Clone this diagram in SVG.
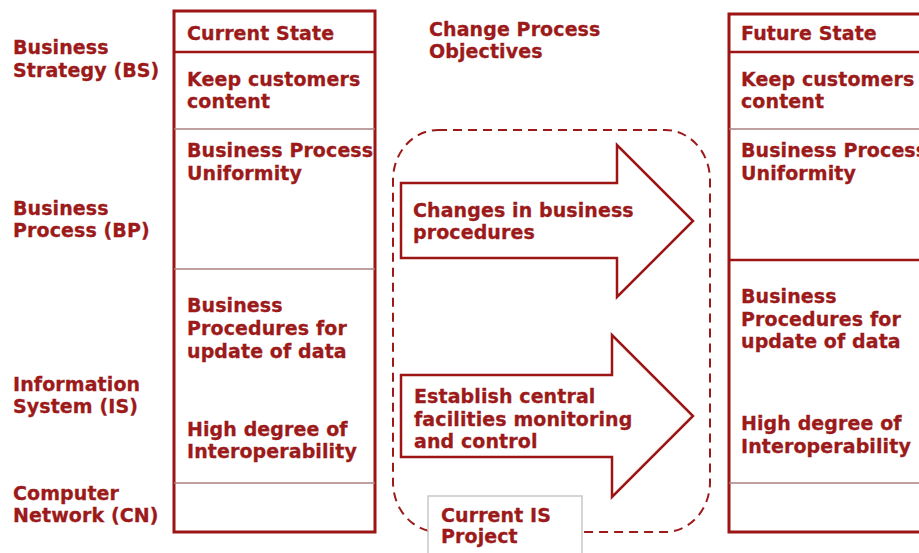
<svg xmlns="http://www.w3.org/2000/svg" width="919" height="553" viewBox="0 0 919 553">
<style>
text{font-family:"DejaVu Sans","Liberation Sans",sans-serif;font-weight:bold;font-size:19px;letter-spacing:0.1px;fill:#9c1a1a;stroke:#9c1a1a;stroke-width:0.3px}
.box{fill:#fff;stroke:#9c1414;stroke-width:3}
.sep{stroke:#a98080;stroke-width:1.5}
.sepr{stroke:#9c1414;stroke-width:2.5}
.arrow{fill:#fff;stroke:#9c1414;stroke-width:2.5;stroke-linejoin:miter}
.dash{fill:none;stroke:#9c1a1a;stroke-width:2;stroke-dasharray:9,6}
</style>
<rect width="919" height="553" fill="#fff"/>
<g id="labels">
<text x="13" y="54">Business</text><text x="13" y="77">Strategy (BS)</text>
<text x="13" y="215">Business</text><text x="13" y="237">Process (BP)</text>
<text x="13" y="391">Information</text><text x="13" y="413">System (IS)</text>
<text x="13" y="500">Computer</text><text x="13" y="522">Network (CN)</text>
</g>
<g id="current-state">
<rect class="box" x="174" y="11" width="201" height="521"/>
<line class="sepr" x1="174" y1="52" x2="375" y2="52"/>
<line class="sep" x1="174" y1="129" x2="375" y2="129"/>
<line class="sep" x1="174" y1="269" x2="375" y2="269"/>
<line class="sep" x1="174" y1="483" x2="375" y2="483"/>
<text x="187" y="40">Current State</text>
<text x="187" y="86">Keep customers</text><text x="187" y="108">content</text>
<text x="187" y="157">Business Process</text><text x="187" y="180">Uniformity</text>
<text x="187" y="312">Business</text><text x="187" y="335">Procedures for</text><text x="187" y="358">update of data</text>
<text x="187" y="436">High degree of</text><text x="187" y="458">Interoperability</text>
</g>
<g id="future-state">
<rect class="box" x="729" y="14" width="200" height="518"/>
<line class="sepr" x1="729" y1="52" x2="919" y2="52"/>
<line class="sep" x1="729" y1="129" x2="919" y2="129"/>
<line class="sepr" x1="729" y1="260" x2="919" y2="260"/>
<line class="sep" x1="729" y1="483" x2="919" y2="483"/>
<text x="741" y="40">Future State</text>
<text x="741" y="86">Keep customers</text><text x="741" y="108">content</text>
<text x="741" y="157">Business Process</text><text x="741" y="180">Uniformity</text>
<text x="741" y="303">Business</text><text x="741" y="326">Procedures for</text><text x="741" y="348">update of data</text>
<text x="741" y="430">High degree of</text><text x="741" y="453">Interoperability</text>
</g>
<g id="objectives-title">
<text x="429" y="36">Change Process</text><text x="429" y="58">Objectives</text>
</g>
<g id="connectors">
<rect class="dash" x="393" y="130" width="317" height="402" rx="45" ry="50"/>
</g>
<g id="arrow-procedures">
<polygon class="arrow" points="401,183 617,183 617,145 693,221 617,297 617,258 401,258"/>
<text x="413" y="217">Changes in business</text><text x="413" y="239">procedures</text>
</g>
<g id="arrow-facilities">
<polygon class="arrow" points="401,375 612,375 612,335 693,416 612,497 612,457 401,457"/>
<text x="414" y="403">Establish central</text><text x="414" y="426">facilities monitoring</text><text x="414" y="448">and control</text>
</g>
<g id="current-is-project">
<rect x="428" y="496" width="154" height="62" fill="#fff" stroke="#c8c8c8" stroke-width="1.5"/>
<text x="441" y="522">Current IS</text><text x="441" y="543">Project</text>
</g>
</svg>
